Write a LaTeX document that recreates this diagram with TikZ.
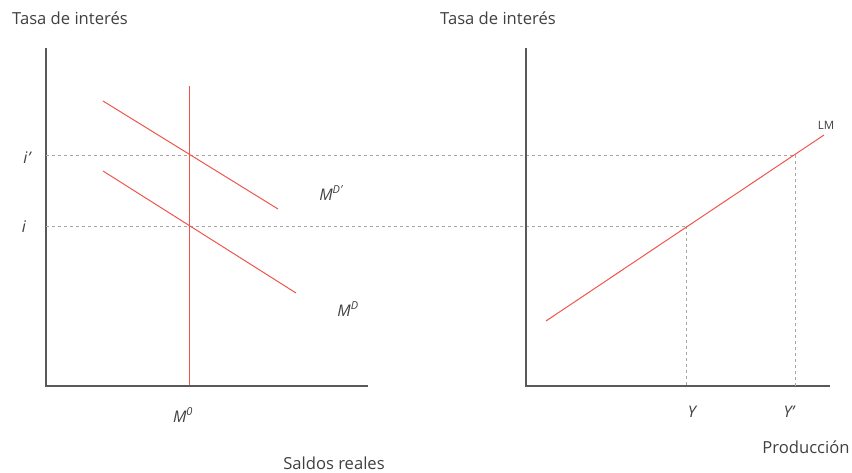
\documentclass[tikz,border=0pt]{standalone}
\usepackage{fontspec}
\setmainfont{Open Sans}
\usetikzlibrary{positioning}
\definecolor{ink}{HTML}{404040}
\definecolor{axis}{HTML}{595959}
\definecolor{curve}{HTML}{F0554D}
\definecolor{guide}{HTML}{A6A6A6}

\begin{document}
\begin{tikzpicture}[x=1pt,y=-1pt,font=\fontsize{16.6}{19}\selectfont,text=ink]
 \useasboundingbox (0,0) rectangle (852,473);
 \tikzset{axisline/.style={axis,line width=1.1pt},
   curveline/.style={draw=curve,line width=1pt},
   guideline/.style={guide,dashed,line width=0.6pt},
   lbl/.style={inner sep=0pt,font=\fontsize{16}{19}\selectfont\itshape}}
 % money market
 \coordinate (O1) at (46,386);
 \draw[axisline] (46,48)--(O1)--(368,386);
 \draw[guideline] (46,155)--(795,155);
 \draw[guideline] (46,226)--(686,226);
 \draw[curveline,line width=1.2pt] (189.5,86)--(189.5,385.4);
 \draw[curveline] (103,101)--(278,209);
 \draw[curveline] (103,171)--(296,293);
 \node[anchor=west,inner sep=0pt] (t1) at (12,18) {Tasa de interés};
 \node[lbl] (ip) at (27,158) {i\kern0.5pt\char"2019};
 \node[lbl] (i) at (24,227) {i};
 \node[lbl] (mdp) at (331,193) {M\textsuperscript{\fontsize{11}{11}\selectfont D\kern0.3pt\char"2019}};
 \node[lbl] (md) at (348,309) {M\textsuperscript{\fontsize{11}{11}\selectfont D}};
 \node[lbl] (m0) at (183,415) {M\textsuperscript{\fontsize{11}{11}\selectfont 0}};
 \node[inner sep=0pt] (x1) at (334,463) {Saldos reales};
 % goods market
 \coordinate (O2) at (526,386);
 \draw[axisline] (526,48)--(O2)--(830,386);
 \draw[guideline] (686,226)--(686,388);
 \draw[guideline] (795,155)--(795,388);
 \draw[curveline] (546,321)--(824,135);
 \node[anchor=west,inner sep=0pt] (t2) at (440,18) {Tasa de interés};
 \node[inner sep=0pt,font=\fontsize{11.5}{13}\selectfont] (lm) at (826,125) {LM};
 \node[lbl] (y) at (692,412) {Y};
 \node[lbl] (yp) at (789,412) {Y\char"2019};
 \node[inner sep=0pt] (x2) at (806,447) {Producción};
\end{tikzpicture}
\end{document}
